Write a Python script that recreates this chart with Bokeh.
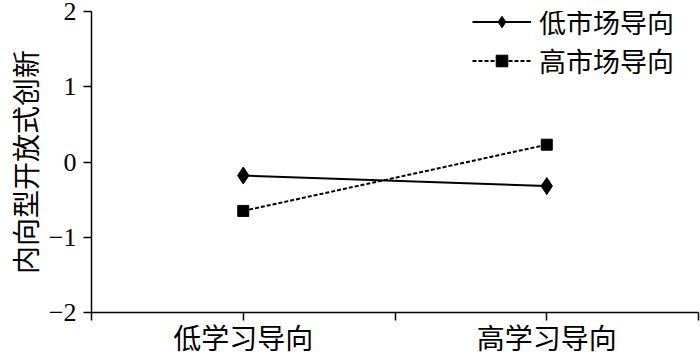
from bokeh.plotting import figure
from bokeh.models import Range1d, FixedTicker, Legend, LegendItem
from bokeh.embed import file_html
from bokeh.resources import INLINE

categories = ["低学习导向", "高学习导向"]
cat_pos = [1, 3]
low_market = [-0.18, -0.32]
high_market = [-0.65, 0.23]
series_names = ["低市场导向", "高市场导向"]
y_ticks = [-2, -1, 0, 1, 2]
y_label = "内向型开放式创新"

CJK = "Noto Sans CJK SC"
SERIF = "Liberation Serif"

p = figure(width=700, height=359, output_backend="svg", toolbar_location=None,
           x_range=Range1d(0, 4), y_range=Range1d(-2, 2),
           min_border_left=91, min_border_right=2, min_border_top=11, min_border_bottom=46)
p.outline_line_color = None
p.xgrid.visible = False
p.ygrid.visible = False
p.background_fill_color = "white"
p.border_fill_color = "white"

# y axis
p.yaxis.ticker = FixedTicker(ticks=y_ticks)
p.yaxis.major_label_overrides = {t: (str(t).replace("-", "\u2212")) for t in y_ticks}
p.yaxis.minor_tick_line_color = None
p.yaxis.major_tick_out = 8
p.yaxis.major_tick_in = 0
p.yaxis.major_label_text_font = SERIF
p.yaxis.major_label_text_font_size = "26px"
p.yaxis.major_label_text_color = "black"
p.yaxis.major_label_standoff = 7
p.yaxis.axis_label = y_label
p.yaxis.axis_label_text_font = CJK
p.yaxis.axis_label_text_font_size = "28px"
p.yaxis.axis_label_text_font_style = "normal"
p.yaxis.axis_label_text_color = "black"
p.yaxis.axis_label_text_baseline = "middle"
p.yaxis.axis_label_standoff = 1
p.yaxis.axis_line_width = 1.5
p.yaxis.major_tick_line_width = 1.5

# x axis
p.xaxis.ticker = FixedTicker(ticks=[0, 1, 2, 3, 4])
ov = {0: "", 2: "", 4: ""}
for c, x in zip(categories, cat_pos):
    ov[x] = c
p.xaxis.major_label_overrides = ov
p.xaxis.minor_tick_line_color = None
p.xaxis.major_tick_out = 8
p.xaxis.major_tick_in = 0
p.xaxis.major_label_text_font = CJK
p.xaxis.major_label_text_font_size = "28px"
p.xaxis.major_label_text_color = "black"
p.xaxis.major_label_standoff = -4
p.xaxis.axis_line_width = 1.5
p.xaxis.major_tick_line_width = 1.5

l1 = p.line(cat_pos, low_market, line_color="black", line_width=2)
m1 = p.scatter(cat_pos, low_market, marker="diamond", size=17, fill_color="black", line_color="black")
l2 = p.line(cat_pos, high_market, line_color="black", line_width=2, line_dash="4 2")
m2 = p.scatter(cat_pos, high_market, marker="square", size=11, fill_color="black", line_color="black")

legend = Legend(items=[LegendItem(label=series_names[0], renderers=[l1, m1]),
                       LegendItem(label=series_names[1], renderers=[l2, m2])],
                location=(381, 232))
legend.background_fill_alpha = 0
legend.border_line_color = None
legend.label_text_font = CJK
legend.label_text_font_size = "27px"
legend.label_text_color = "black"
legend.glyph_width = 59
legend.glyph_height = 29
legend.label_height = 29
legend.spacing = 0
legend.padding = 0
legend.margin = 0
legend.label_standoff = 8
p.add_layout(legend)

open("out.html", "w").write(file_html(p, INLINE))
